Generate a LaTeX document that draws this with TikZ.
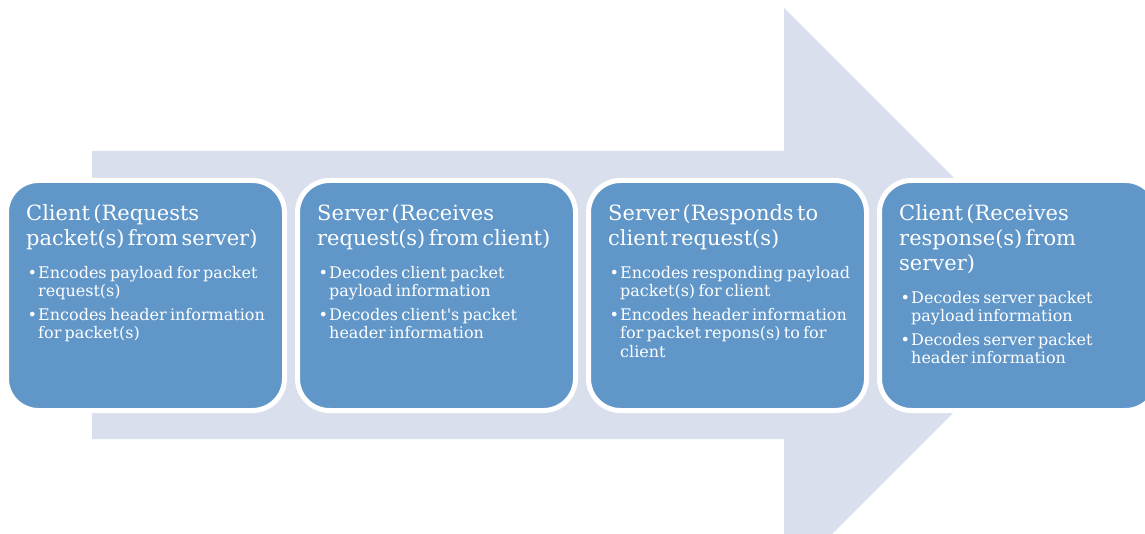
\documentclass[tikz,border=0pt]{standalone}
\usepackage{fontspec}
\setmainfont{DejaVu Serif}
\usetikzlibrary{positioning}

\definecolor{arrowfill}{RGB}{218,223,237}
\definecolor{boxfill}{RGB}{96,150,200}

% heading and bullet lines inside a stage box
\newcommand{\stagehead}[1]{{\fontsize{21}{25}\selectfont #1\par}\vspace{14pt}}
\newcommand{\stagepoint}[1]{{\fontsize{16}{18.5}\selectfont\noindent\hspace*{1.5pt}\makebox[10.5pt][l]{\textbullet}\parbox[t]{235pt}{#1}\par}\vspace{7pt}}

\tikzset{
  stagebox/.style={fill=boxfill, draw=white, line width=5pt, rounded corners=32pt,
    minimum width=278pt, minimum height=230pt, inner sep=0pt, outer sep=0pt},
  stagetext/.style={text=white, text width=250pt, align=left, inner sep=0pt}
}

\begin{document}
\begin{tikzpicture}[x=1pt,y=1pt]
\useasboundingbox (0,0) rectangle (1145,533);
% Arrow behind the boxes
\fill[arrowfill] (92,94) -- (92,382) -- (784,382) -- (784,525) -- (1071,238) -- (784,-49) -- (784,94) -- cycle;

% Stage boxes
\node[stagebox, anchor=north west] (client1) at (6.5,352.5) {};
\node[stagebox, right=13pt of client1] (server1) {};
\node[stagebox, right=13pt of server1] (server2) {};
\node[stagebox, right=13pt of server2] (client2) {};

% Box texts
\node[stagetext, below right=24pt and 19.5pt of client1.north west] (client1text) {%
  \stagehead{Client (Requests\\packet(s) from server)}
  \stagepoint{Encodes payload for packet\\request(s)}
  \stagepoint{Encodes header information\\for packet(s)}};
\node[stagetext, below right=24pt and 19.5pt of server1.north west] (server1text) {%
  \stagehead{Server (Receives\\request(s) from client)}
  \stagepoint{Decodes client packet\\payload information}
  \stagepoint{Decodes client\textquotesingle s packet\\header information}};
\node[stagetext, below right=24pt and 19.5pt of server2.north west] (server2text) {%
  \stagehead{Server (Responds to\\client request(s)}
  \stagepoint{Encodes responding payload\\packet(s) for client}
  \stagepoint{Encodes header information\\for packet repons(s) to for\\client}};
\node[stagetext, below right=24pt and 19.5pt of client2.north west] (client2text) {%
  \stagehead{Client (Receives\\response(s) from\\server)}
  \stagepoint{Decodes server packet\\payload information}
  \stagepoint{Decodes server packet\\header information}};
\end{tikzpicture}
\end{document}
